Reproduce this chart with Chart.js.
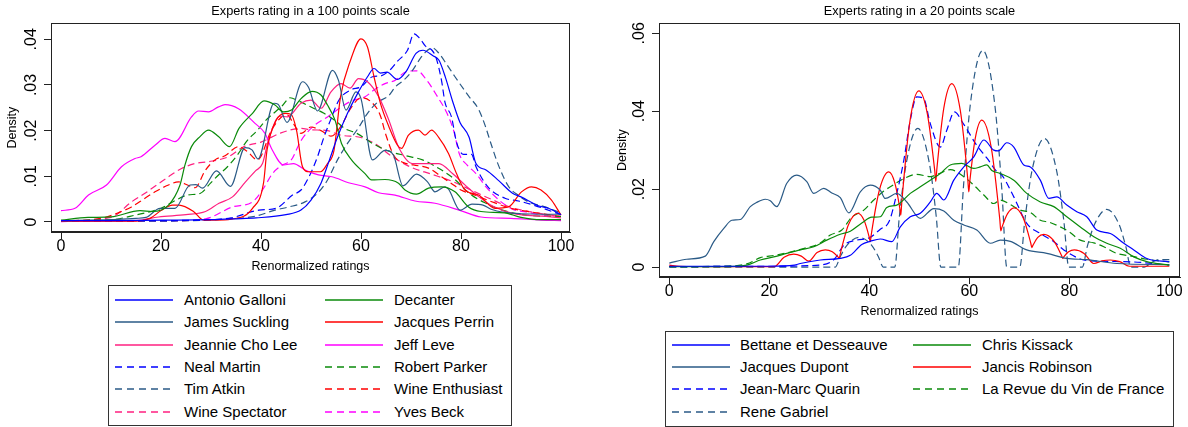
<!DOCTYPE html>
<html><head><meta charset="utf-8">
<script src="https://cdn.jsdelivr.net/npm/chart.js@4.4.1/dist/chart.umd.min.js"></script>
<style>
html,body{margin:0;padding:0;background:#fff;}
#wrap{position:relative;width:1188px;height:427px;overflow:hidden;font-family:"Liberation Sans",Arial,Helvetica,sans-serif;}
canvas{position:absolute;}
.lgbox{position:absolute;border:1px solid #333;box-sizing:border-box;background:#fff;}
.lgtext{position:absolute;font-size:15px;line-height:18px;color:#000;white-space:nowrap;}
.lgline{position:absolute;}
</style></head><body>
<div id="wrap">
  <canvas id="leftChart" width="590" height="280" style="left:0;top:0"></canvas>
  <canvas id="rightChart" width="598" height="330" style="left:590px;top:0"></canvas>
</div>
<script>
// ---------- ticks / labels ----------
const xTicks = [0, 20, 40, 60, 80, 100];
const yTicksLeft = [0, 0.01, 0.02, 0.03, 0.04];
const yTicksRight = [0, 0.02, 0.04, 0.06];
const leftTitle = 'Experts rating in a 100 points scale';
const rightTitle = 'Experts rating in a 20 points scale';
const xTitle = 'Renormalized ratings';
const yTitle = 'Density';

const leftNames = ['Antonio Galloni','Decanter','James Suckling','Jacques Perrin','Jeannie Cho Lee','Jeff Leve',
  'Neal Martin','Robert Parker','Tim Atkin','Wine Enthusiast','Wine Spectator','Yves Beck'];
const rightNames = ['Bettane et Desseauve','Chris Kissack','Jacques Dupont','Jancis Robinson',
  'Jean-Marc Quarin','La Revue du Vin de France','Rene Gabriel'];

// ---------- left panel series: [rating, density] ----------
const galloni = [[0,.0003],[10,.0003],[20,.0004],[30,.0005],[35,.0007],[39,.0009],[45,.0016],[48,.0026],[50,.0048],[52,.0085],[53.5,.013],[55.3,.0186],[57.3,.0238],[59.3,.0281],[61.3,.0318],[62.6,.0336],[63.9,.0326],[65.2,.0328],[67.3,.0312],[69,.0329],[71,.0369],[72.4,.0376],[74.4,.0364],[75.6,.0354],[76.9,.0316],[78.3,.0265],[79.8,.0218],[81.6,.0186],[83,.0128],[85,.0114],[87.6,.009],[90.3,.0063],[92,.0055],[95.6,.0035],[97.5,.003],[100,.0016]];
const decanter = [[0,.0004],[5.4,.001],[10,.0011],[15.8,.0025],[18.3,.0023],[21.5,.0037],[23.8,.0081],[24.8,.0125],[26.1,.0165],[27.8,.0187],[29.5,.0201],[31.5,.0187],[33.7,.0165],[35.6,.0205],[38.3,.0238],[40.6,.0265],[42.8,.0256],[44.5,.0241],[46.1,.0245],[48,.027],[50.2,.0286],[52,.0278],[53.3,.0256],[54.8,.0223],[56.1,.0172],[58.1,.0136],[60.8,.0106],[62.1,.0092],[64.8,.0093],[67.5,.0085],[68.8,.007],[71.1,.0061],[73.5,.0074],[76.1,.0077],[78.8,.0066],[81.5,.0033],[84,.0023],[88.7,.002],[92,.001],[96,.0005],[100,.0005]];
const suckling = [[0,.0003],[10,.0005],[15,.0008],[17,.001],[19.8,.003],[22.8,.003],[25.8,.0081],[27,.0082],[28.3,.0074],[31.1,.0112],[33.9,.0078],[36.8,.0163],[38.2,.0158],[39.4,.0138],[42.6,.026],[43.4,.0258],[45.2,.0218],[48.3,.0307],[49.5,.0295],[51.3,.0243],[54.3,.0332],[55.5,.031],[57,.0245],[59,.0285],[60,.027],[62.3,.0136],[64.8,.0157],[66.5,.0146],[68.4,.0079],[71.1,.0105],[73.3,.0088],[74.8,.0066],[76.8,.0077],[77.5,.0072],[79.8,.0026],[82.2,.0039],[84.4,.0037],[86,.0028],[88.8,.0021],[92,.0018],[96,.0017],[100,.0017]];
const perrin = [[0,.0002],[15,.0002],[17.8,.0008],[20,.0025],[22.3,.0037],[23.6,.0037],[26.5,.0023],[28.5,.0004],[31,.0004],[34,.0006],[38.3,.003],[40.5,.0085],[41.2,.0157],[43,.0222],[44.8,.0238],[46,.0236],[47.1,.0201],[48.3,.0121],[49.6,.011],[51.9,.011],[53.3,.0128],[54.6,.0157],[55.9,.0274],[57.9,.0354],[60,.0401],[61.3,.0383],[62.6,.0318],[63.9,.0259],[65.6,.0208],[67.3,.0168],[68.1,.0161],[69.5,.019],[71.5,.0201],[72.8,.019],[74.1,.0201],[75.5,.0186],[77.5,.015],[79.1,.0106],[80.8,.007],[83.5,.0059],[86.8,.003],[89.5,.0033],[92.1,.0066],[94.1,.0077],[96,.007],[98.1,.0048],[100,.0015]];
const choLee = [[0,.0002],[15,.0003],[19.5,.0011],[25,.0016],[28.9,.0023],[31.6,.0041],[34.3,.0055],[36.9,.0088],[38.9,.0112],[40.3,.0128],[41.5,.018],[43.8,.0232],[45.3,.023],[48,.026],[50,.0267],[52,.0249],[54,.0285],[56,.0303],[57.8,.0293],[59.5,.0314],[61.3,.0307],[63.5,.0275],[65.5,.0225],[67.6,.0162],[70.3,.0128],[73,.0128],[75.6,.0128],[78.3,.0106],[81,.0079],[83.6,.0055],[86.3,.0035],[90.3,.0019],[97,.0012],[100,.0009]];
const leve = [[0,.0025],[2.8,.003],[5.5,.0059],[9.1,.0081],[12.1,.0121],[14.8,.0139],[16,.0143],[18.8,.0168],[20.8,.0183],[22.8,.0176],[26.1,.023],[27.5,.0243],[29.5,.0241],[31.5,.0252],[32.8,.0257],[35.5,.0248],[38.8,.0216],[40.8,.0194],[42.1,.0161],[44.5,.0125],[46.5,.0128],[48.8,.0114],[51.5,.0103],[54.2,.0099],[57.5,.0086],[60.8,.0077],[63.5,.0064],[66.8,.0059],[70.8,.0046],[74.8,.0041],[79.9,.0025],[84,.0011],[90,.0008],[96,.0004],[100,.0003]];
const martin = [[0,.0002],[20,.0003],[30,.0005],[34,.0009],[39.6,.0026],[43,.003],[46.3,.0059],[48,.007],[49.6,.0099],[51.3,.0143],[52.6,.0186],[53.9,.0223],[55.6,.0267],[57.9,.0289],[60,.0296],[62.3,.0318],[64,.032],[66,.0335],[67.3,.0352],[69.3,.0376],[70.6,.0412],[71.9,.04],[72.9,.0385],[74.2,.0376],[75,.036],[76.1,.031],[76.8,.0262],[78.1,.023],[79.1,.0175],[80.5,.0148],[82.1,.0148],[83,.0121],[85.3,.0078],[88.8,.0052],[91.5,.0046],[94.8,.0036],[100,.0016]];
const parker = [[0,.0003],[10,.0005],[14.8,.0015],[20,.003],[23,.0048],[25.3,.0059],[27.9,.0063],[29.9,.0085],[31.5,.0103],[33.3,.0121],[35.5,.015],[37,.0175],[39.3,.0201],[41,.0223],[44.3,.0255],[45.8,.0272],[47.5,.0265],[50.3,.025],[52.6,.0238],[54.8,.0222],[57,.0203],[59,.0195],[62.3,.0172],[65.6,.0155],[69,.0145],[72.3,.0136],[75.6,.0117],[78.9,.0092],[81.6,.0063],[85,.0041],[88.3,.0026],[93,.0015],[100,.0012]];
const atkin = [[0,.0002],[20,.0002],[35,.0008],[39,.0013],[42.8,.0026],[45.6,.0033],[48.8,.0044],[51.3,.0063],[53.3,.0092],[55.3,.0136],[57.3,.0172],[59.6,.0208],[61.3,.0238],[63.3,.0262],[65.5,.0276],[66.9,.0296],[68.5,.031],[70.3,.0332],[71.6,.0354],[72.9,.0372],[74.3,.0381],[75.6,.0369],[77.2,.0344],[78.8,.0318],[81.5,.0276],[83.5,.0247],[84.8,.0212],[86.1,.0168],[87.5,.0124],[89.5,.0078],[91.5,.0058],[93.5,.0044],[96.8,.0033],[100,.002]];
const enthusiast = [[0,.0002],[8,.0008],[12.1,.0023],[14.1,.0033],[16.8,.0052],[18.8,.0066],[21.5,.0081],[23.5,.0088],[25.3,.0081],[26.8,.0075],[28.8,.0112],[30.8,.0136],[32.8,.0145],[35.5,.0165],[37.2,.0155],[39.3,.0136],[42.1,.0201],[44.1,.023],[45.3,.0234],[46.5,.0215],[48,.0194],[50,.0208],[52,.02],[54,.0188],[56,.021],[58,.025],[60,.0272],[61.8,.0265],[63.8,.0235],[65,.019],[66.6,.0145],[68.5,.013],[70.5,.0125],[73.5,.0118],[76,.01],[78,.0085],[80,.007],[83,.0058],[86,.0045],[90,.003],[94,.0022],[100,.0012]];
const spectator = [[0,.0002],[10,.001],[14.1,.0044],[16.8,.0063],[21.5,.0099],[24.1,.0117],[26.8,.0128],[29.5,.0132],[33.5,.0143],[36.6,.0165],[40,.0175],[44,.0195],[48,.0205],[50,.0202],[53.3,.02],[56,.019],[60,.0185],[63,.017],[66,.0145],[70,.012],[74,.0105],[78,.009],[82,.007],[86,.005],[90,.0032],[94,.0022],[100,.0012]];
const beck = [[0,.0001],[20,.0002],[28.9,.0007],[34.3,.0033],[38.3,.0044],[40.3,.007],[42.3,.0106],[44.3,.0125],[46,.0135],[48,.0178],[50.5,.021],[53.3,.023],[56.1,.0252],[58.1,.0265],[60.8,.0274],[62.6,.0289],[64.8,.0303],[66.8,.031],[69,.0329],[71.2,.0331],[73.3,.0308],[75.2,.0276],[77.2,.0238],[78.5,.0201],[79.7,.0148],[81.2,.0125],[83,.0106],[85,.0077],[87.6,.0048],[90.3,.0028],[93,.0022],[96,.0016],[100,.0012]];

// ---------- right panel series ----------
const bettane = [[0,.0002],[20,.0002],[25,.0005],[26.2,.0009],[30.2,.0018],[34.2,.0022],[36.2,.003],[38.5,.0058],[40.2,.0066],[42.2,.0072],[44.5,.0065],[46.2,.0103],[48.2,.0129],[50.2,.0138],[52.2,.0167],[53.5,.0189],[54.9,.0172],[56.9,.0223],[58.9,.0257],[60.9,.0283],[62.9,.0326],[64.9,.03],[65.8,.0298],[67.5,.0319],[68.9,.0308],[70.9,.0262],[72.2,.0257],[74.2,.0223],[75.9,.0176],[77.5,.018],[79.5,.0159],[81.5,.0142],[83.5,.0129],[85.5,.0095],[88.2,.0086],[90.9,.0061],[92.9,.0044],[95.5,.0022],[100,.0013]];
const kissack = [[0,.0001],[10,.0001],[15.5,.0005],[18.2,.0018],[20.9,.0026],[23.5,.0035],[26.2,.0044],[28.9,.0052],[31.5,.0069],[34.2,.0084],[36.2,.0092],[38.5,.0113],[40.5,.0128],[42.2,.0129],[43.5,.0153],[45.5,.0159],[48.2,.0189],[50.2,.0206],[52.2,.0223],[54.2,.024],[56.2,.0262],[58.5,.0266],[60.9,.0253],[62.2,.0257],[63.5,.0262],[64.5,.0248],[66.2,.024],[68.9,.0223],[71.5,.0189],[74.2,.0167],[76.9,.0155],[79.5,.0129],[82.2,.0103],[84.9,.0078],[87.5,.0061],[90.2,.0048],[92.9,.0026],[95.5,.0014],[100,.0005]];
const dupont = [[0,.001],[3.5,.002],[7.2,.0028],[8.9,.0065],[10.9,.0099],[12.5,.012],[14.2,.0122],[16.2,.0155],[17.5,.0166],[19.2,.0174],[20.2,.017],[21.5,.0155],[23.5,.0215],[25.5,.0236],[27.5,.0219],[28.9,.0189],[30.9,.0202],[32.5,.019],[34.2,.0178],[35.9,.0139],[38.2,.0193],[40.2,.021],[42.2,.0197],[43.2,.0176],[45.5,.0189],[47.5,.0167],[50.2,.0125],[52.9,.015],[54.9,.0144],[56.9,.012],[58.9,.0108],[61.5,.0095],[64.2,.0061],[66.2,.0069],[68.2,.0066],[71.5,.0044],[75.5,.0035],[79.5,.0022],[83.5,.0019],[89.5,.0009],[100,.0006]];
const jancis = [[0,.0005],[2,.0002],[10,.0001],[21,.0001],[22.95,.0025],[24.9,.0033],[26.4,.0028],[27.9,.0015],[29.55,.0037],[31.2,.0044],[32.6,.0039],[33.8,.0025],[34,.0022],[34.2,.0034],[35.85,.0109],[37.7,.0138],[38.95,.012],[40,.0076],[40.2,.0065],[40.4,.0084],[42.05,.0199],[43.9,.0244],[45.1,.0216],[46.1,.0151],[46.3,.0133],[46.5,.0167],[48.1,.0372],[49.9,.0452],[51.6,.0394],[53.1,.0246],[53.3,.022],[53.5,.025],[54.9,.0408],[56.5,.0471],[58.2,.0402],[59.7,.0225],[59.9,.0193],[60.1,.022],[61.2,.0331],[62.5,.0377],[64.4,.0306],[66.1,.0122],[66.3,.0093],[66.5,.0101],[67.65,.0137],[69,.0152],[70.75,.0127],[72.3,.0061],[72.5,.005],[72.7,.0055],[73.7,.0076],[74.9,.0084],[76.8,.0069],[78.5,.0028],[78.7,.0022],[78.9,.0026],[79.85,.0039],[81,.0044],[82.95,.0035],[84.9,.0009],[86.55,.0016],[88.2,.0018],[90.1,.0014],[92,.0002],[100,.0002]];
const quarin = [[0,.0001],[20,.0002],[30,.0005],[33,.002],[34.9,.0056],[37.5,.0069],[40,.0075],[42.2,.0097],[44,.0118],[45.5,.0189],[46.9,.0274],[48.2,.0377],[49.5,.0437],[50.9,.0432],[52.2,.0368],[54.2,.0308],[55.5,.0351],[57,.0398],[58.9,.0366],[61.5,.0312],[63.5,.028],[65.5,.0245],[66.5,.0236],[68.9,.018],[71.5,.0112],[74.2,.0086],[76.9,.0065],[78.9,.0044],[82.9,.0018],[86,.0015],[92.9,.0013],[100,.0005]];
const revue = [[0,.0001],[10,.0002],[15.5,.0008],[18.2,.0024],[21,.003],[24,.0038],[27,.0048],[30,.006],[32.2,.0082],[34.5,.0095],[36.5,.0128],[38.9,.0146],[40.9,.0172],[42.9,.0195],[44.2,.0206],[46.9,.0227],[49.5,.0238],[52.2,.0232],[54,.024],[56.2,.025],[58.9,.0232],[60.9,.021],[62.9,.0185],[64.9,.0163],[66.2,.0172],[68,.0162],[70.2,.0146],[72.2,.014],[74.2,.012],[76,.0115],[78.2,.0103],[80,.009],[82.2,.0069],[84.9,.0062],[86.9,.0052],[89.5,.0035],[92.5,.0028],[95.5,.002],[100,.0013]];
const gabriel = [[0,0],[20,0],[33.2,0],[34.2,.0027],[35.6,.0057],[38,.0076],[40.4,.0057],[41.8,.0027],[42.8,0],[45.1,0],[46,.0128],[47.4,.0267],[49.7,.0356],[52,.0267],[53.4,.0128],[54.3,0],[57.8,0],[58.8,.02],[60.2,.0417],[62.7,.0556],[65.1,.0417],[66.5,.02],[67.5,0],[70.1,0],[71.1,.0119],[72.55,.0248],[75,.033],[77.45,.0248],[78.9,.0119],[79.9,0],[82.6,0],[83.6,.0053],[85.1,.0111],[87.5,.0148],[89.9,.0111],[91.3,.0053],[92.3,0],[95,0],[96.5,.0012],[98,.0019],[100,.0019]];

const leftSeries = [galloni, decanter, suckling, perrin, choLee, leve, martin, parker, atkin, enthusiast, spectator, beck];
const rightSeries = [bettane, kissack, dupont, jancis, quarin, revue, gabriel];

// ---------- styles ----------
const FONT = '"Liberation Sans", Arial, Helvetica, sans-serif';
const BLUE = '#0000ff', GREEN = '#0a8a0a', NAVY = '#2a5a86', RED = '#ff0000', PINK = '#ff2080', MAGENTA = '#ff00ff';
const leftColors = [BLUE, GREEN, NAVY, RED, PINK, MAGENTA, BLUE, GREEN, NAVY, RED, PINK, MAGENTA];
const leftDashed = [false,false,false,false,false,false,true,true,true,true,true,true];
const rightColors = [BLUE, GREEN, NAVY, RED, BLUE, GREEN, NAVY];
const rightDashed = [false,false,false,false,true,true,true];

Chart.defaults.font.family = FONT;
Chart.defaults.color = '#000';

const fmt = v => (v === 0 ? '0' : String(v).replace(/^0\./, '.'));

const framePlugin = {
  id: 'frame',
  afterDatasetsDraw(chart) {
    const {ctx, chartArea: a} = chart;
    ctx.save();
    ctx.strokeStyle = '#222';
    ctx.lineWidth = 1;
    ctx.strokeRect(Math.round(a.left) + 0.5, Math.round(a.top) + 0.5,
                   Math.round(a.right - a.left) - 1, Math.round(a.bottom - a.top) - 1);
    ctx.restore();
  }
};

function makeChart(id, names, series, colors, dashed, cfg) {
  const datasets = series.map((s, i) => ({
    label: names[i],
    data: s.map(p => ({x: p[0], y: p[1]})),
    borderColor: colors[i],
    borderWidth: 1.2,
    borderDash: dashed[i] ? [7, 4] : [],
    pointRadius: 0,
    fill: false,
    cubicInterpolationMode: 'monotone'
  }));
  return new Chart(document.getElementById(id), {
    type: 'line',
    data: {datasets},
    plugins: [framePlugin],
    options: {
      responsive: false,
      animation: false,
      devicePixelRatio: 1,
      layout: {padding: cfg.pad},
      plugins: {
        legend: {display: false},
        tooltip: {enabled: false},
        title: {display: true, text: cfg.title, color: '#000', fullSize: false,
                font: {size: 12.75, weight: 'normal', family: FONT}, padding: {top: 4, bottom: 4}}
      },
      scales: {
        x: {
          type: 'linear', min: cfg.xMin, max: cfg.xMax,
          afterBuildTicks: s => { s.ticks = xTicks.map(v => ({value: v})); },
          afterFit: s => { s.height = cfg.xHeight; },
          grid: {display: true, drawOnChartArea: false, drawTicks: true, tickLength: 7, color: '#222'},
          border: {display: true, color: '#222'},
          ticks: {autoSkip: false, maxRotation: 0, padding: 0, color: '#000',
                  font: {size: 16, lineHeight: 1, family: FONT}, callback: v => fmt(v)},
          title: {display: true, text: xTitle, color: '#000',
                  font: {size: 12.5, family: FONT}, padding: {top: 0, bottom: cfg.xTitlePad}}
        },
        y: {
          type: 'linear', min: cfg.yMin, max: cfg.yMax,
          afterBuildTicks: s => { s.ticks = cfg.yTicks.map(v => ({value: v})); },
          afterFit: s => { s.width = cfg.yWidth; },
          grid: {display: true, drawOnChartArea: false, drawTicks: true, tickLength: 7, color: '#222'},
          border: {display: true, color: '#222'},
          ticks: {autoSkip: false, minRotation: 90, maxRotation: 90, crossAlign: 'center', padding: 1,
                  color: '#000', font: {size: 16, lineHeight: 1, family: FONT}, callback: v => fmt(v)},
          title: {display: true, text: yTitle, color: '#000',
                  font: {size: 12.5, family: FONT}, padding: {top: 5, bottom: 0}}
        }
      }
    }
  });
}

makeChart('leftChart', leftNames, leftSeries, leftColors, leftDashed, {
  title: leftTitle, pad: {left: 0, right: 20, top: 0, bottom: 0},
  xMin: -2, xMax: 101.8, yMin: -0.00219, yMax: 0.0435, yTicks: yTicksLeft,
  yWidth: 51, xHeight: 48, xTitlePad: 6
});
makeChart('rightChart', rightNames, rightSeries, rightColors, rightDashed, {
  title: rightTitle, pad: {left: 20, right: 8, top: 0, bottom: 0},
  xMin: -2.06, xMax: 102.14, yMin: -0.00256, yMax: 0.06256, yTicks: yTicksRight,
  yWidth: 49, xHeight: 53, xTitlePad: 11
});

// ---------- HTML legends ----------
function makeLegend(names, colors, dashed, box) {
  const wrap = document.getElementById('wrap');
  const b = document.createElement('div');
  b.className = 'lgbox';
  Object.assign(b.style, {left: box.left + 'px', top: box.top + 'px', width: box.w + 'px', height: box.h + 'px'});
  wrap.appendChild(b);
  names.forEach((n, i) => {
    const col = i % 2, row = Math.floor(i / 2);
    const cy = box.row0 + row * box.step;
    const lx = col === 0 ? box.line1 : box.line2;
    const tx = col === 0 ? box.text1 : box.text2;
    const svgNS = 'http://www.w3.org/2000/svg';
    const svg = document.createElementNS(svgNS, 'svg');
    svg.setAttribute('width', box.lineW); svg.setAttribute('height', 4);
    svg.setAttribute('class', 'lgline');
    svg.style.left = lx + 'px'; svg.style.top = (cy - 2) + 'px';
    const ln = document.createElementNS(svgNS, 'line');
    ln.setAttribute('x1', 0); ln.setAttribute('y1', 2); ln.setAttribute('x2', box.lineW); ln.setAttribute('y2', 2);
    ln.setAttribute('stroke', colors[i]); ln.setAttribute('stroke-width', 1.3);
    if (dashed[i]) ln.setAttribute('stroke-dasharray', '7 5');
    svg.appendChild(ln);
    wrap.appendChild(svg);
    const t = document.createElement('div');
    t.className = 'lgtext';
    t.textContent = n;
    t.style.left = tx + 'px'; t.style.top = (cy - 9) + 'px';
    wrap.appendChild(t);
  });
}
makeLegend(leftNames, leftColors, leftDashed,
  {left: 108, top: 285, w: 404, h: 141, row0: 300, step: 22.35, line1: 115, line2: 325, text1: 184, text2: 394, lineW: 58});
makeLegend(rightNames, rightColors, rightDashed,
  {left: 665, top: 331, w: 509, h: 96, row0: 345, step: 22.2, line1: 672, line2: 913, text1: 740, text2: 982, lineW: 58});
</script>
</body></html>
